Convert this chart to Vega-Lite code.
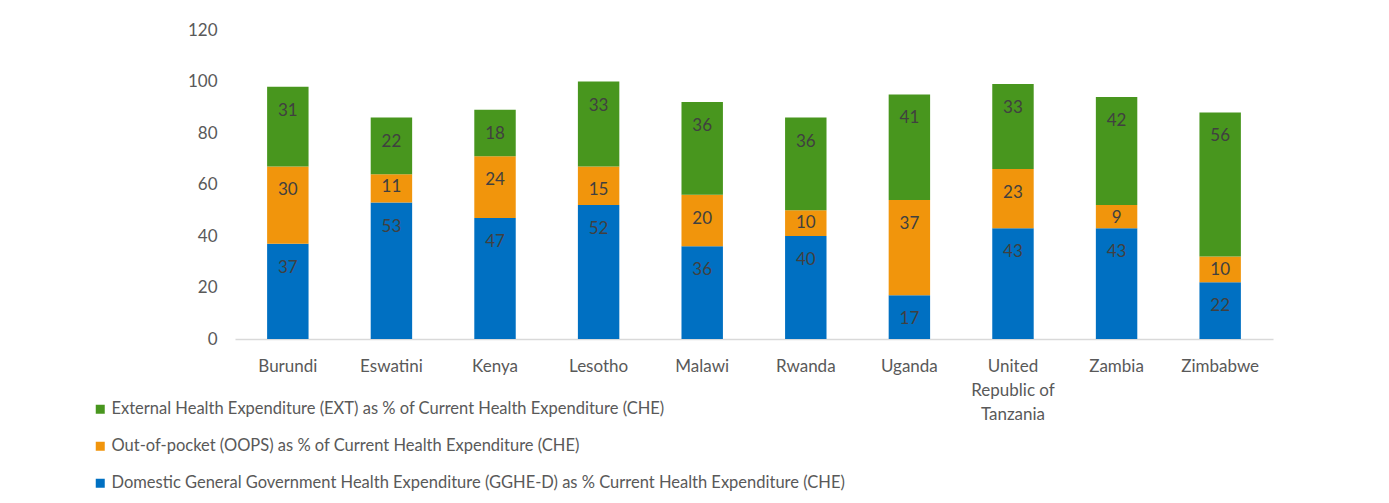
{
  "$schema": "https://vega.github.io/schema/vega-lite/v6.json",
  "width": 1038,
  "height": 309,
  "autosize": {"type": "none"},
  "padding": {"left": 235, "top": 30, "right": 116, "bottom": 164},
  "background": "white",
  "config": {
    "font": "Lato",
    "view": {"stroke": null}
  },
  "data": {
    "values": [
      {"country": "Burundi", "series": "Domestic General Government Health Expenditure (GGHE-D) as % Current Health Expenditure (CHE)", "k": 1, "value": 37},
      {"country": "Burundi", "series": "Out-of-pocket (OOPS) as % of Current Health Expenditure (CHE)", "k": 2, "value": 30},
      {"country": "Burundi", "series": "External Health Expenditure (EXT) as % of Current Health Expenditure (CHE)", "k": 3, "value": 31},
      {"country": "Eswatini", "series": "Domestic General Government Health Expenditure (GGHE-D) as % Current Health Expenditure (CHE)", "k": 1, "value": 53},
      {"country": "Eswatini", "series": "Out-of-pocket (OOPS) as % of Current Health Expenditure (CHE)", "k": 2, "value": 11},
      {"country": "Eswatini", "series": "External Health Expenditure (EXT) as % of Current Health Expenditure (CHE)", "k": 3, "value": 22},
      {"country": "Kenya", "series": "Domestic General Government Health Expenditure (GGHE-D) as % Current Health Expenditure (CHE)", "k": 1, "value": 47},
      {"country": "Kenya", "series": "Out-of-pocket (OOPS) as % of Current Health Expenditure (CHE)", "k": 2, "value": 24},
      {"country": "Kenya", "series": "External Health Expenditure (EXT) as % of Current Health Expenditure (CHE)", "k": 3, "value": 18},
      {"country": "Lesotho", "series": "Domestic General Government Health Expenditure (GGHE-D) as % Current Health Expenditure (CHE)", "k": 1, "value": 52},
      {"country": "Lesotho", "series": "Out-of-pocket (OOPS) as % of Current Health Expenditure (CHE)", "k": 2, "value": 15},
      {"country": "Lesotho", "series": "External Health Expenditure (EXT) as % of Current Health Expenditure (CHE)", "k": 3, "value": 33},
      {"country": "Malawi", "series": "Domestic General Government Health Expenditure (GGHE-D) as % Current Health Expenditure (CHE)", "k": 1, "value": 36},
      {"country": "Malawi", "series": "Out-of-pocket (OOPS) as % of Current Health Expenditure (CHE)", "k": 2, "value": 20},
      {"country": "Malawi", "series": "External Health Expenditure (EXT) as % of Current Health Expenditure (CHE)", "k": 3, "value": 36},
      {"country": "Rwanda", "series": "Domestic General Government Health Expenditure (GGHE-D) as % Current Health Expenditure (CHE)", "k": 1, "value": 40},
      {"country": "Rwanda", "series": "Out-of-pocket (OOPS) as % of Current Health Expenditure (CHE)", "k": 2, "value": 10},
      {"country": "Rwanda", "series": "External Health Expenditure (EXT) as % of Current Health Expenditure (CHE)", "k": 3, "value": 36},
      {"country": "Uganda", "series": "Domestic General Government Health Expenditure (GGHE-D) as % Current Health Expenditure (CHE)", "k": 1, "value": 17},
      {"country": "Uganda", "series": "Out-of-pocket (OOPS) as % of Current Health Expenditure (CHE)", "k": 2, "value": 37},
      {"country": "Uganda", "series": "External Health Expenditure (EXT) as % of Current Health Expenditure (CHE)", "k": 3, "value": 41},
      {"country": "United Republic of Tanzania", "series": "Domestic General Government Health Expenditure (GGHE-D) as % Current Health Expenditure (CHE)", "k": 1, "value": 43},
      {"country": "United Republic of Tanzania", "series": "Out-of-pocket (OOPS) as % of Current Health Expenditure (CHE)", "k": 2, "value": 23},
      {"country": "United Republic of Tanzania", "series": "External Health Expenditure (EXT) as % of Current Health Expenditure (CHE)", "k": 3, "value": 33},
      {"country": "Zambia", "series": "Domestic General Government Health Expenditure (GGHE-D) as % Current Health Expenditure (CHE)", "k": 1, "value": 43},
      {"country": "Zambia", "series": "Out-of-pocket (OOPS) as % of Current Health Expenditure (CHE)", "k": 2, "value": 9},
      {"country": "Zambia", "series": "External Health Expenditure (EXT) as % of Current Health Expenditure (CHE)", "k": 3, "value": 42},
      {"country": "Zimbabwe", "series": "Domestic General Government Health Expenditure (GGHE-D) as % Current Health Expenditure (CHE)", "k": 1, "value": 22},
      {"country": "Zimbabwe", "series": "Out-of-pocket (OOPS) as % of Current Health Expenditure (CHE)", "k": 2, "value": 10},
      {"country": "Zimbabwe", "series": "External Health Expenditure (EXT) as % of Current Health Expenditure (CHE)", "k": 3, "value": 56}
    ]
  },
  "transform": [
    {"stack": "value", "groupby": ["country"], "sort": [{"field": "k", "order": "ascending"}], "as": ["y0", "y1"]}
  ],
  "encoding": {
    "x": {
      "field": "country",
      "type": "nominal",
      "sort": null,
      "scale": {"paddingInner": 0.6, "paddingOuter": 0.31},
      "axis": {
        "title": null,
        "labelAngle": 0,
        "ticks": false,
        "domainColor": "#D9D9D9",
        "domainWidth": 1.5,
        "labelColor": "#595959",
        "labelFontSize": 17,
        "labelPadding": 27,
        "labelBaseline": "middle",
        "labelLineHeight": 24,
        "labelExpr": "datum.value == 'United Republic of Tanzania' ? ['United', 'Republic of', 'Tanzania'] : datum.value"
      }
    }
  },
  "layer": [
    {
      "mark": {"type": "bar"},
      "encoding": {
        "y": {
          "field": "y1",
          "type": "quantitative",
          "scale": {"domain": [0, 120], "nice": false},
          "axis": {
            "title": null,
            "values": [0, 20, 40, 60, 80, 100, 120],
            "grid": false,
            "ticks": false,
            "domain": false,
            "labelColor": "#595959",
            "labelFontSize": 17,
            "labelPadding": 18
          }
        },
        "y2": {"field": "y0"},
        "color": {
          "field": "series",
          "type": "nominal",
          "scale": {
            "domain": [
              "External Health Expenditure (EXT) as % of Current Health Expenditure (CHE)",
              "Out-of-pocket (OOPS) as % of Current Health Expenditure (CHE)",
              "Domestic General Government Health Expenditure (GGHE-D) as % Current Health Expenditure (CHE)"
            ],
            "range": ["#48961E", "#F1950C", "#0070C2"]
          },
          "legend": {
            "title": null,
            "orient": "none",
            "direction": "vertical",
            "legendX": -143,
            "legendY": 371,
            "symbolType": "square",
            "symbolSize": 81,
            "symbolStrokeWidth": 0,
            "labelFontSize": 16.5,
            "labelColor": "#595959",
            "labelLimit": 900,
            "rowPadding": 20,
            "labelOffset": 3
          }
        }
      }
    },
    {
      "transform": [{"filter": "datum.value >= 15"}],
      "mark": {"type": "text", "dy": 24, "fontSize": 17, "color": "#404040", "baseline": "middle"},
      "encoding": {
        "y": {"field": "y1", "type": "quantitative"},
        "text": {"field": "value", "type": "quantitative"}
      }
    },
    {
      "transform": [{"filter": "datum.value < 15"}],
      "mark": {"type": "text", "dy": 13, "fontSize": 17, "color": "#404040", "baseline": "middle"},
      "encoding": {
        "y": {"field": "y1", "type": "quantitative"},
        "text": {"field": "value", "type": "quantitative"}
      }
    }
  ]
}
